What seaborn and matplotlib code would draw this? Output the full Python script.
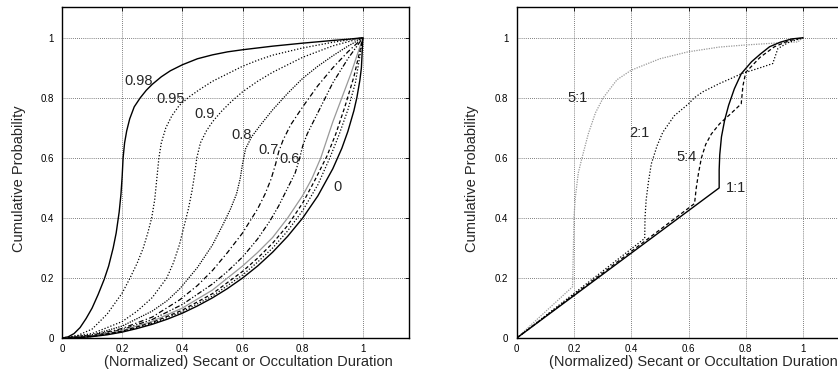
import matplotlib
matplotlib.use("Agg")
import matplotlib.pyplot as plt
import seaborn as sns

# --- Left panel: ellipses of different eccentricity ---
e098_x = [0, 0.02, 0.04, 0.06, 0.08, 0.1, 0.12, 0.14, 0.155, 0.17, 0.18, 0.19, 0.196, 0.2, 0.203, 0.208, 0.215, 0.225, 0.24, 0.26, 0.28, 0.3, 0.33, 0.36, 0.4, 0.45, 0.5, 0.55, 0.6, 0.7, 0.8, 0.9, 0.95, 1.0]
e098_y = [0, 0.004, 0.015, 0.035, 0.065, 0.1, 0.145, 0.195, 0.24, 0.3, 0.35, 0.42, 0.48, 0.54, 0.6, 0.65, 0.69, 0.73, 0.77, 0.8, 0.825, 0.845, 0.87, 0.89, 0.91, 0.93, 0.943, 0.953, 0.96, 0.972, 0.982, 0.991, 0.995, 1.0]

e095_x = [0, 0.05, 0.1, 0.15, 0.2, 0.226, 0.25, 0.27, 0.285, 0.298, 0.308, 0.315, 0.322, 0.33, 0.345, 0.365, 0.39, 0.425, 0.458, 0.5, 0.55, 0.6, 0.65, 0.7, 0.8, 0.9, 1.0]
e095_y = [0, 0.008, 0.03, 0.08, 0.15, 0.2, 0.25, 0.3, 0.35, 0.4, 0.46, 0.53, 0.6, 0.65, 0.7, 0.74, 0.775, 0.805, 0.828, 0.855, 0.88, 0.905, 0.925, 0.942, 0.966, 0.985, 1.0]

e090_x = [0, 0.1, 0.2, 0.25, 0.3, 0.348, 0.37, 0.39, 0.405, 0.42, 0.432, 0.44, 0.448, 0.46, 0.48, 0.5, 0.53, 0.56, 0.6, 0.65, 0.7, 0.8, 0.9, 1.0]
e090_y = [0, 0.015, 0.055, 0.09, 0.135, 0.2, 0.25, 0.31, 0.37, 0.43, 0.49, 0.54, 0.6, 0.65, 0.69, 0.72, 0.755, 0.785, 0.82, 0.855, 0.885, 0.935, 0.973, 1.0]

e080_x = [0, 0.1, 0.2, 0.3, 0.35, 0.392, 0.45, 0.5, 0.536, 0.56, 0.58, 0.592, 0.6, 0.61, 0.63, 0.66, 0.7, 0.75, 0.8, 0.85, 0.9, 0.95, 1.0]
e080_y = [0, 0.011, 0.04, 0.09, 0.125, 0.165, 0.235, 0.31, 0.38, 0.43, 0.48, 0.53, 0.58, 0.63, 0.67, 0.71, 0.76, 0.815, 0.865, 0.905, 0.94, 0.972, 1.0]

e070_x = [0, 0.1, 0.2, 0.3, 0.392, 0.45, 0.5, 0.55, 0.6, 0.625, 0.65, 0.675, 0.695, 0.71, 0.72, 0.735, 0.76, 0.8, 0.85, 0.9, 0.95, 1.0]
e070_y = [0, 0.009, 0.032, 0.07, 0.128, 0.175, 0.225, 0.285, 0.35, 0.39, 0.43, 0.48, 0.53, 0.58, 0.62, 0.66, 0.71, 0.77, 0.84, 0.9, 0.953, 1.0]

e060_x = [0, 0.1, 0.2, 0.3, 0.4, 0.5, 0.55, 0.6, 0.65, 0.691, 0.72, 0.75, 0.775, 0.79, 0.8, 0.815, 0.84, 0.87, 0.9, 0.95, 1.0]
e060_y = [0, 0.008, 0.028, 0.062, 0.112, 0.18, 0.222, 0.27, 0.33, 0.39, 0.44, 0.5, 0.55, 0.6, 0.64, 0.68, 0.73, 0.79, 0.85, 0.93, 1.0]

e050_x = [0, 0.1, 0.2, 0.3, 0.4, 0.5, 0.6, 0.65, 0.7, 0.75, 0.8, 0.83, 0.86, 0.88, 0.9, 0.93, 0.96, 1.0]
e050_y = [0, 0.006, 0.025, 0.056, 0.1, 0.16, 0.24, 0.285, 0.335, 0.4, 0.475, 0.53, 0.6, 0.66, 0.72, 0.8, 0.88, 1.0]

e040_x = [0, 0.1, 0.2, 0.3, 0.4, 0.5, 0.6, 0.65, 0.7, 0.75, 0.8, 0.84, 0.88, 0.91, 0.94, 0.97, 1.0]
e040_y = [0, 0.0055, 0.023, 0.052, 0.093, 0.148, 0.222, 0.266, 0.316, 0.375, 0.45, 0.525, 0.605, 0.68, 0.77, 0.87, 1.0]

e030_x = [0, 0.1, 0.2, 0.3, 0.4, 0.5, 0.6, 0.65, 0.7, 0.75, 0.8, 0.85, 0.89, 0.92, 0.95, 0.975, 1.0]
e030_y = [0, 0.0052, 0.021, 0.049, 0.088, 0.14, 0.21, 0.253, 0.3, 0.357, 0.425, 0.51, 0.6, 0.675, 0.76, 0.85, 1.0]

e000_x = [0, 0.05, 0.1, 0.15, 0.2, 0.25, 0.3, 0.35, 0.4, 0.45, 0.5, 0.55, 0.6, 0.65, 0.7, 0.75, 0.8, 0.85, 0.9, 0.93, 0.95, 0.97, 0.98, 0.99, 0.995, 1.0]
e000_y = [0, 0.001, 0.005, 0.011, 0.02, 0.032, 0.046, 0.063, 0.083, 0.107, 0.134, 0.165, 0.2, 0.24, 0.286, 0.339, 0.4, 0.473, 0.564, 0.632, 0.688, 0.757, 0.801, 0.859, 0.9, 1.0]

left_labels = ["0.98", "0.95", "0.9", "0.8", "0.7", "0.6", "0"]
left_label_x = [0.253, 0.361, 0.475, 0.597, 0.685, 0.755, 0.915]
left_label_y = [0.855, 0.795, 0.745, 0.676, 0.626, 0.595, 0.502]

# --- Right panel: rectangles of different aspect ratio ---
r51_x = [0, 0.195, 0.198, 0.2, 0.205, 0.215, 0.228, 0.25, 0.275, 0.302, 0.35, 0.4, 0.5, 0.598, 0.708, 0.8, 0.9, 0.981, 1.0]
r51_y = [0, 0.171, 0.3, 0.404, 0.47, 0.55, 0.6, 0.68, 0.75, 0.8, 0.86, 0.892, 0.93, 0.953, 0.969, 0.976, 0.982, 0.986, 1.0]

r21_x = [0, 0.447, 0.448, 0.452, 0.46, 0.47, 0.49, 0.51, 0.55, 0.6, 0.62, 0.65, 0.709, 0.75, 0.784, 0.85, 0.894, 0.912, 0.95, 1.0]
r21_y = [0, 0.332, 0.4, 0.46, 0.52, 0.58, 0.64, 0.685, 0.74, 0.78, 0.8, 0.82, 0.848, 0.865, 0.88, 0.9, 0.914, 0.964, 0.985, 1.0]

r54_x = [0, 0.621, 0.627, 0.635, 0.645, 0.66, 0.68, 0.709, 0.745, 0.784, 0.79, 0.8, 0.85, 0.9, 0.95, 1.0]
r54_y = [0, 0.448, 0.5, 0.55, 0.6, 0.645, 0.68, 0.714, 0.745, 0.78, 0.84, 0.885, 0.935, 0.97, 0.99, 1.0]

r11_x = [0, 0.707, 0.707, 0.709, 0.715, 0.726, 0.74, 0.76, 0.784, 0.82, 0.85, 0.883, 0.92, 0.96, 1.0]
r11_y = [0, 0.5, 0.56, 0.61, 0.67, 0.725, 0.775, 0.83, 0.88, 0.92, 0.945, 0.97, 0.985, 0.996, 1.0]

right_labels = ["5:1", "2:1", "5:4", "1:1"]
right_label_x = [0.211, 0.43, 0.592, 0.767]
right_label_y = [0.801, 0.683, 0.603, 0.501]

sns.set_style("white")
plt.rcParams['font.family'] = ['Liberation Sans', 'DejaVu Sans']

fig = plt.figure(figsize=(8.38, 3.74), dpi=100)
ax1 = fig.add_axes([0.074, 0.096, 0.414, 0.885])
ax2 = fig.add_axes([0.6166, 0.096, 0.394, 0.885])

dot = (0, (1, 1.5))
dot_dense = (0, (1, 1))
dashdot = (0, (4, 2, 1, 2))
dashdotdot = (0, (4, 1.5, 1, 1.5, 1, 1.5))
dashed = (0, (3, 2))

left_curves = [
    (e098_x, e098_y, "black", "-", 1.0),
    (e095_x, e095_y, "black", dot, 0.9),
    (e090_x, e090_y, "black", dot, 0.9),
    (e080_x, e080_y, "black", dot_dense, 0.9),
    (e070_x, e070_y, "black", dashdot, 0.9),
    (e060_x, e060_y, "black", dashdotdot, 0.9),
    (e050_x, e050_y, "#999999", "-", 0.9),
    (e040_x, e040_y, "black", dashed, 0.9),
    (e030_x, e030_y, "black", dot, 0.9),
    (e000_x, e000_y, "black", "-", 1.0),
]
for xs, ys, c, ls, lw in left_curves:
    sns.lineplot(x=xs, y=ys, ax=ax1, color=c, linestyle=ls, linewidth=lw,
                 sort=False, estimator=None)

right_curves = [
    (r51_x, r51_y, "#999999", dot_dense, 0.9),
    (r21_x, r21_y, "black", dot, 0.9),
    (r54_x, r54_y, "black", dashed, 0.9),
    (r11_x, r11_y, "black", "-", 1.0),
]
for xs, ys, c, ls, lw in right_curves:
    sns.lineplot(x=xs, y=ys, ax=ax2, color=c, linestyle=ls, linewidth=lw,
                 sort=False, estimator=None)

for lab, lx, ly in zip(left_labels, left_label_x, left_label_y):
    ax1.text(lx, ly, lab, fontsize=10.5, ha="center", va="center")
for lab, lx, ly in zip(right_labels, right_label_x, right_label_y):
    ax2.text(lx, ly, lab, fontsize=10.5, ha="center", va="center")

ticks = [0, 0.2, 0.4, 0.6, 0.8, 1]
tick_labels = ["0", "0.2", "0.4", "0.6", "0.8", "1"]
for ax, ylx in [(ax1, -0.105), (ax2, -0.115)]:
    ax.set_xlim(0, 1.153)
    ax.set_ylim(0, 1.102)
    ax.set_xticks(ticks)
    ax.set_xticklabels(tick_labels)
    ax.set_yticks(ticks)
    ax.set_yticklabels(tick_labels)
    ax.tick_params(direction="in", length=3, width=0.6, labelsize=7,
                   top=True, right=True, colors="black")
    ax.tick_params(axis="x", pad=4)
    ax.tick_params(axis="y", pad=6)
    ax.grid(True, color="#555555", linestyle=(0, (1, 1.5)), linewidth=0.6)
    for s in ax.spines.values():
        s.set_color("black")
        s.set_linewidth(1.0)
    ax.set_xlabel("(Normalized) Secant or Occultation Duration", fontsize=10.5)
    ax.set_ylabel("Cumulative Probability", fontsize=10.5)
    ax.xaxis.set_label_coords(0.536, -0.052)
    ax.yaxis.set_label_coords(ylx, 0.483)

fig.savefig("out.png", dpi=100)
